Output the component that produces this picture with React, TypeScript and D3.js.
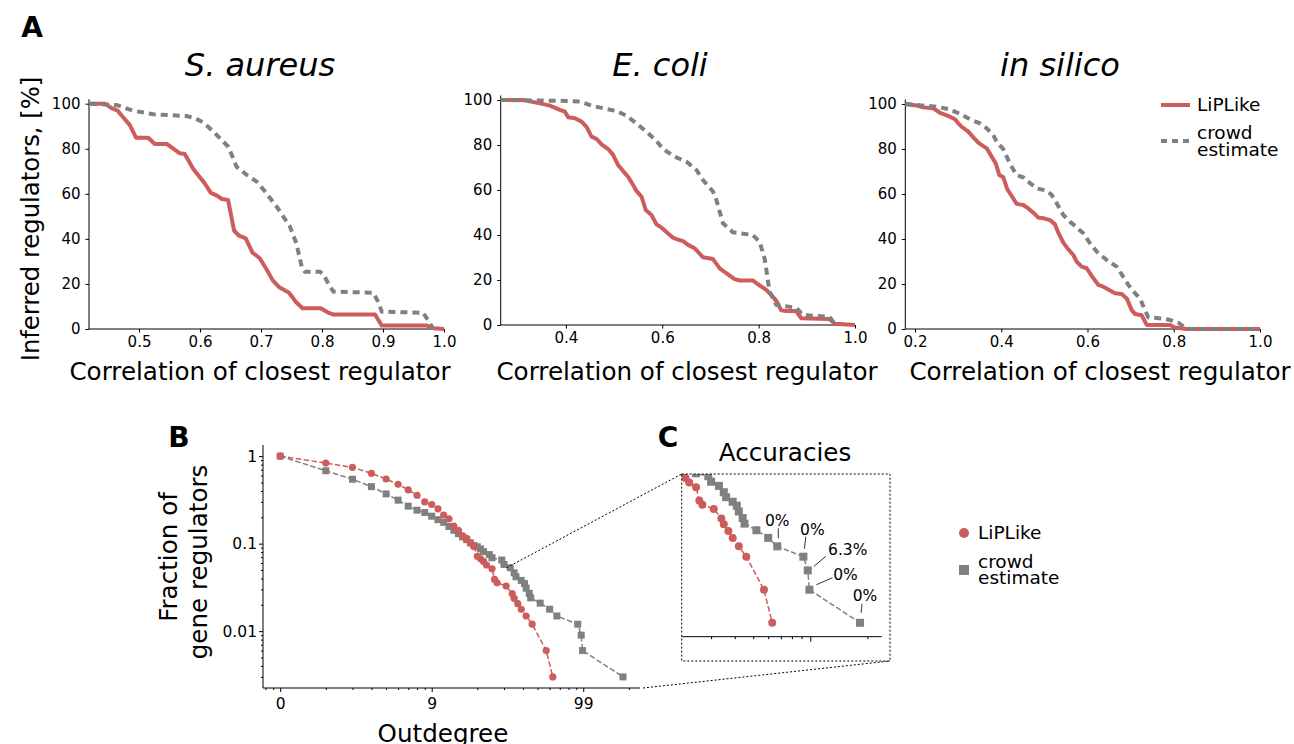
import React, { useEffect, useRef } from "react";
import * as d3 from "d3";

const RED = "#cd5c5c";
const GRAY = "#808080";
const FONT = "'DejaVu Sans', sans-serif";

// Panel A: share of inferred regulators [%] vs correlation of the closest regulator
const aureusLipX = [0.4197, 0.444, 0.455, 0.465, 0.474, 0.485, 0.495, 0.515, 0.526, 0.546, 0.567, 0.575, 0.589, 0.607, 0.6175, 0.627, 0.636, 0.646, 0.656, 0.664, 0.675, 0.686, 0.698, 0.709, 0.719, 0.73, 0.746, 0.757, 0.768, 0.798, 0.809, 0.819, 0.887, 0.898, 0.972, 0.983, 1.0];
const aureusLipY = [100, 100, 98, 96.9, 94, 90.5, 84.9, 84.9, 82.1, 82.1, 78, 77.7, 71, 64.9, 60.5, 59.3, 57.7, 57.3, 43.6, 41.4, 40.2, 33.9, 31.4, 26.5, 21.7, 18.5, 16.1, 12.1, 9.2, 9.2, 7.4, 6.4, 6.4, 1.5, 1.5, 0.3, 0];
const aureusCrowdX = [0.4197, 0.4634, 0.4907, 0.5235, 0.578, 0.592, 0.6054, 0.622, 0.633, 0.6464, 0.66, 0.6766, 0.693, 0.7066, 0.7257, 0.7366, 0.7475, 0.758, 0.7667, 0.772, 0.7967, 0.802, 0.81, 0.8185, 0.884, 0.892, 0.898, 0.966, 0.977, 0.9825];
const aureusCrowdY = [100, 99.4, 96.9, 95.3, 94.5, 93.5, 91.7, 87.6, 84.6, 80.9, 72, 68.4, 65.4, 61, 54.3, 49.9, 45.4, 38, 27.7, 25.4, 25.4, 24.4, 20.3, 16.6, 16.1, 12.1, 7.7, 7.2, 2.5, 0];

const ecoliLipX = [0.2647, 0.3115, 0.346, 0.3668, 0.3876, 0.398, 0.4048, 0.4187, 0.4325, 0.4429, 0.4532, 0.4636, 0.474, 0.4877, 0.498, 0.5084, 0.5188, 0.529, 0.5395, 0.5465, 0.557, 0.5658, 0.5776, 0.588, 0.5983, 0.612, 0.6224, 0.6294, 0.6431, 0.6535, 0.6674, 0.6846, 0.7053, 0.7192, 0.733, 0.7503, 0.7606, 0.788, 0.7985, 0.816, 0.8263, 0.8367, 0.847, 0.8574, 0.878, 0.8885, 0.947, 0.9575, 1.0];
const ecoliLipY = [100, 100, 98.5, 97.5, 95.6, 94.8, 92.3, 91.9, 90.4, 88.1, 83.7, 82.7, 80.3, 78.2, 75.6, 71.1, 68.4, 65.9, 62.2, 59.6, 57.0, 51.1, 48.9, 44.7, 43.3, 40.7, 38.8, 38.2, 37.3, 35.6, 34.1, 30.1, 29.3, 25.2, 23.0, 20.4, 19.8, 19.8, 18.1, 15.6, 13.3, 10.7, 6.5, 6.2, 6.2, 3.0, 2.7, 0.6, 0];
const ecoliCrowdX = [0.2647, 0.4014, 0.429, 0.4566, 0.4843, 0.505, 0.5258, 0.5465, 0.5672, 0.588, 0.6017, 0.626, 0.6502, 0.671, 0.6846, 0.7053, 0.7123, 0.726, 0.7467, 0.788, 0.802, 0.8124, 0.8228, 0.8367, 0.878, 0.892, 0.947, 0.9575, 0.965];
const ecoliCrowdY = [100, 99.6, 99.3, 97.3, 96.0, 95.1, 93.0, 89.6, 85.9, 81.8, 78.2, 74.8, 72.6, 68.9, 64.4, 59.3, 55.6, 45.2, 41.2, 40.0, 37.0, 29.6, 14.8, 8.9, 7.7, 4.4, 3.7, 0.6, 0];

const silicoLipX = [0.1775, 0.2039, 0.2193, 0.2425, 0.258, 0.2773, 0.2928, 0.3004, 0.3083, 0.3236, 0.3352, 0.3468, 0.3584, 0.3662, 0.3778, 0.3878, 0.3955, 0.4048, 0.414, 0.4242, 0.4358, 0.4511, 0.4627, 0.4743, 0.4859, 0.4975, 0.513, 0.5246, 0.5323, 0.5439, 0.5555, 0.5671, 0.575, 0.5866, 0.5981, 0.6097, 0.625, 0.6367, 0.6483, 0.6638, 0.6793, 0.6909, 0.7025, 0.7101, 0.7256, 0.7373, 0.7913, 0.8029, 0.83, 1.0];
const silicoLipY = [100, 99.3, 98.5, 98.1, 96.1, 94.7, 93.2, 91.4, 89.9, 87.7, 85.2, 82.8, 81.3, 80.3, 76.6, 73.3, 68.4, 67.4, 62.1, 59.1, 55.6, 55.1, 53.6, 51.7, 49.5, 49.2, 48.4, 46.5, 42.8, 38.4, 35.4, 32.9, 29.9, 27.7, 27.0, 23.6, 19.6, 18.8, 17.6, 15.9, 15.6, 13.6, 8.4, 6.7, 6.1, 1.8, 1.8, 0.7, 0, 0];
const silicoCrowdX = [0.1775, 0.2503, 0.2812, 0.3043, 0.3275, 0.3507, 0.3662, 0.3816, 0.3894, 0.4048, 0.4203, 0.4358, 0.4511, 0.4667, 0.4822, 0.5054, 0.517, 0.5286, 0.5439, 0.5594, 0.575, 0.5903, 0.6058, 0.6213, 0.6445, 0.6677, 0.683, 0.6946, 0.7101, 0.7217, 0.7333, 0.741, 0.7758, 0.7913, 0.8106, 0.826, 0.8377, 1.0];
const silicoCrowdY = [100, 98.8, 97.6, 95.6, 93.2, 91.4, 89.2, 86.2, 83.2, 79.9, 73.3, 68.4, 67.4, 64.8, 62.5, 61.5, 59.6, 55.9, 50.7, 47.7, 45.2, 42.5, 38.1, 34.4, 30.7, 27.7, 23.2, 19.6, 15.9, 13.6, 8.4, 5.2, 4.6, 4.0, 2.8, 0.7, 0, 0];

const aureusTicks = [0.5, 0.6, 0.7, 0.8, 0.9, 1.0];
const ecoliTicks = [0.4, 0.6, 0.8, 1.0];
const silicoTicks = [0.2, 0.4, 0.6, 0.8, 1.0];
const percentTicks = [0, 20, 40, 60, 80, 100];

// Panel B/C: outdegree distribution (fraction of gene regulators)
const lipOutdeg = [0, 1, 2, 3, 4, 5, 6, 7, 8, 9, 10, 11, 12, 13, 14, 15, 16, 17, 18, 19, 20, 21, 22, 24, 25, 26, 30, 33, 34, 36, 38, 41, 45, 56, 62];
const lipFrac = [1, 0.833, 0.744, 0.636, 0.548, 0.477, 0.411, 0.357, 0.3, 0.28, 0.25, 0.212, 0.192, 0.159, 0.142, 0.123, 0.115, 0.102, 0.093, 0.0717, 0.067, 0.0626, 0.057, 0.0516, 0.039, 0.0357, 0.0327, 0.0268, 0.0237, 0.0206, 0.0178, 0.0149, 0.012, 0.006, 0.003];
const crowdOutdeg = [0, 1, 2, 3, 4, 5, 6, 7, 8, 9, 10, 11, 12, 13, 14, 15, 16, 17, 18, 19, 20, 21, 23, 24, 28, 29, 32, 34, 35, 38, 40, 41, 43, 44, 51, 59, 66, 91, 96, 98, 182];
const crowdFrac = [1, 0.68, 0.544, 0.448, 0.37, 0.314, 0.268, 0.241, 0.227, 0.206, 0.188, 0.175, 0.157, 0.142, 0.13, 0.119, 0.111, 0.102, 0.095, 0.092, 0.087, 0.081, 0.075, 0.069, 0.065, 0.0578, 0.053, 0.0464, 0.0418, 0.038, 0.035, 0.031, 0.027, 0.024, 0.0209, 0.0178, 0.0149, 0.012, 0.009, 0.006, 0.003];

// accuracy annotations on the crowd-estimate tail (panel C)
const accOutdeg = [66, 91, 96, 98, 182];
const accLabels = ["0%", "0%", "6.3%", "0%", "0%"];

export default function App() {
  const svgRef = useRef<SVGSVGElement | null>(null);

  useEffect(() => {
    const svg = d3.select(svgRef.current);
    svg.selectAll("*").remove();
    svg.attr("font-family", FONT);

    // ---------- panel A ----------
    const panels = [
      { title: "S. aureus", lx: aureusLipX, ly: aureusLipY, cx: aureusCrowdX, cy: aureusCrowdY, dom: [0.418, 1.0], ticks: aureusTicks, left: 89, right: 444, bottom: 329, top: 103.7, titleX: 260, labelX: 260 },
      { title: "E. coli", lx: ecoliLipX, ly: ecoliLipY, cx: ecoliCrowdX, cy: ecoliCrowdY, dom: [0.2647, 1.0], ticks: ecoliTicks, left: 500.7, right: 855, bottom: 325, top: 100, titleX: 660, labelX: 687 },
      { title: "in silico", lx: silicoLipX, ly: silicoLipY, cx: silicoCrowdX, cy: silicoCrowdY, dom: [0.1775, 1.0], ticks: silicoTicks, left: 905.3, right: 1260, bottom: 329, top: 104, titleX: 1060, labelX: 1100 },
    ];

    panels.forEach((p) => {
      const x = d3.scaleLinear().domain(p.dom).range([p.left, p.right]);
      const y = d3.scaleLinear().domain([0, 100]).range([p.bottom, p.top]);
      const g = svg.append("g");

      const yAxis = g
        .append("g")
        .attr("transform", `translate(${p.left},0)`)
        .call(d3.axisLeft(y).tickValues(percentTicks).tickSize(3.5).tickPadding(5).tickSizeOuter(0));
      yAxis.select(".domain").remove();
      yAxis.selectAll("text").attr("font-size", 15).attr("font-family", FONT).attr("fill", "#000");

      const xAxis = g
        .append("g")
        .attr("transform", `translate(0,${p.bottom})`)
        .call(d3.axisBottom(x).tickValues(p.ticks).tickFormat(d3.format(".1f")).tickSize(3.5).tickPadding(4).tickSizeOuter(0));
      xAxis.select(".domain").remove();
      xAxis.selectAll("text").attr("font-size", 15).attr("font-family", FONT).attr("fill", "#000");

      // spines
      g.append("line").attr("x1", p.left).attr("x2", p.left).attr("y1", p.bottom).attr("y2", y(102)).attr("stroke", "#000").attr("stroke-width", 1);
      g.append("line").attr("x1", p.left).attr("x2", p.right).attr("y1", p.bottom).attr("y2", p.bottom).attr("stroke", "#000").attr("stroke-width", 1);

      const curve = d3.line<[number, number]>().x((d) => x(d[0])).y((d) => y(d[1]));
      g.append("path")
        .attr("d", curve(p.lx.map((v, i) => [v, p.ly[i]] as [number, number])))
        .attr("fill", "none")
        .attr("stroke", RED)
        .attr("stroke-width", 4)
        .attr("stroke-linejoin", "round");
      g.append("path")
        .attr("d", curve(p.cx.map((v, i) => [v, p.cy[i]] as [number, number])))
        .attr("fill", "none")
        .attr("stroke", GRAY)
        .attr("stroke-width", 4)
        .attr("stroke-dasharray", "7 5");

      g.append("text").attr("x", p.titleX).attr("y", 76).attr("text-anchor", "middle").attr("font-size", 32).attr("font-style", "italic").text(p.title);
      g.append("text").attr("x", p.labelX).attr("y", 380).attr("text-anchor", "middle").attr("font-size", 24.6).text("Correlation of closest regulator");
    });

    svg.append("text").attr("transform", "translate(30,219) rotate(-90)").attr("dy", "0.35em").attr("text-anchor", "middle").attr("font-size", 24.3).text("Inferred regulators, [%]");

    // legend A
    const legA = svg.append("g");
    legA.append("line").attr("x1", 1161).attr("x2", 1190).attr("y1", 105).attr("y2", 105).attr("stroke", RED).attr("stroke-width", 4);
    legA.append("text").attr("x", 1197).attr("y", 105).attr("dy", "0.35em").attr("font-size", 18.5).text("LiPLike");
    legA.append("line").attr("x1", 1161).attr("x2", 1190).attr("y1", 141).attr("y2", 141).attr("stroke", GRAY).attr("stroke-width", 4).attr("stroke-dasharray", "6 5");
    legA.append("text").attr("x", 1197).attr("y", 133).attr("dy", "0.35em").attr("font-size", 18.5).text("crowd");
    legA.append("text").attr("x", 1197).attr("y", 149.5).attr("dy", "0.35em").attr("font-size", 18.5).text("estimate");

    // ---------- panel B ----------
    const xB = d3.scaleLog().domain([0.77, 237]).range([263, 640]);
    const yB = d3.scaleLog().domain([0.00224, 1.34]).range([688, 445]);
    const isMajor = (v: number) => Math.abs(Math.log10(v) - Math.round(Math.log10(v))) < 1e-6;
    const gB = svg.append("g");

    const xt = xB.ticks();
    const yt = yB.ticks();
    const axMinorX = gB.append("g").attr("transform", "translate(0,688)").call(d3.axisBottom(xB).tickValues(xt.filter((v) => !isMajor(v))).tickSize(2).tickFormat(() => ""));
    const axMajorX = gB.append("g").attr("transform", "translate(0,688)").call(d3.axisBottom(xB).tickValues(xt.filter(isMajor)).tickSize(4).tickPadding(6).tickFormat((v) => String(Math.round(+v) - 1)));
    const axMinorY = gB.append("g").attr("transform", "translate(263,0)").call(d3.axisLeft(yB).tickValues(yt.filter((v) => !isMajor(v))).tickSize(2).tickFormat(() => ""));
    const axMajorY = gB.append("g").attr("transform", "translate(263,0)").call(d3.axisLeft(yB).tickValues(yt.filter(isMajor)).tickSize(4).tickPadding(2).tickFormat((v) => String(+(+v).toPrecision(1))));
    [axMinorX, axMajorX, axMinorY, axMajorY].forEach((a) => {
      a.select(".domain").remove();
      a.selectAll("text").attr("font-size", 15.5).attr("font-family", FONT).attr("fill", "#000");
    });
    gB.append("line").attr("x1", 263).attr("x2", 263).attr("y1", 445).attr("y2", 688).attr("stroke", "#000");
    gB.append("line").attr("x1", 263).attr("x2", 640).attr("y1", 688).attr("y2", 688).attr("stroke", "#000");

    const drawSeries = (
      g: d3.Selection<SVGGElement, unknown, null, undefined>,
      xs: d3.ScaleLogarithmic<number, number>,
      ys: d3.ScaleLogarithmic<number, number>,
      degs: number[],
      fr: number[],
      color: string,
      shape: "circle" | "square",
      size: number
    ) => {
      const pts = degs.map((d, i) => [xs(d + 1), ys(fr[i])] as [number, number]);
      g.append("path")
        .attr("d", d3.line()(pts))
        .attr("fill", "none")
        .attr("stroke", color)
        .attr("stroke-width", 1.5)
        .attr("stroke-dasharray", "5.5 2.4");
      if (shape === "circle") {
        g.selectAll(null).data(pts).join("circle").attr("cx", (d) => d[0]).attr("cy", (d) => d[1]).attr("r", size).attr("fill", color);
      } else {
        g.selectAll(null).data(pts).join("rect").attr("x", (d) => d[0] - size / 2).attr("y", (d) => d[1] - size / 2).attr("width", size).attr("height", size).attr("fill", color);
      }
    };

    drawSeries(gB, xB, yB, crowdOutdeg, crowdFrac, GRAY, "square", 7);
    drawSeries(gB, xB, yB, lipOutdeg, lipFrac, RED, "circle", 3.6);

    svg.append("text").attr("transform", "translate(168,557) rotate(-90)").attr("dy", "0.35em").attr("text-anchor", "middle").attr("font-size", 24.6).text("Fraction of");
    svg.append("text").attr("transform", "translate(198,562) rotate(-90)").attr("dy", "0.35em").attr("text-anchor", "middle").attr("font-size", 24.6).text("gene regulators");
    svg.append("text").attr("x", 443).attr("y", 742).attr("text-anchor", "middle").attr("font-size", 24.6).text("Outdegree");

    // ---------- panel C (zoomed tail) ----------
    const cL = 681.7, cR = 881.7, cT = 474, cB = 636.7;
    const xC = d3.scaleLog().domain([21, 238]).range([cL, cR]);
    const yC = d3.scaleLog().domain([0.00224, 0.068]).range([cB, cT]);
    const defs = svg.append("defs");
    defs.append("clipPath").attr("id", "clipC").append("rect").attr("x", cL).attr("y", cT).attr("width", cR - cL).attr("height", cB - cT);
    const gC = svg.append("g");
    const xtC = xC.ticks();
    const axMinorC = gC.append("g").attr("transform", `translate(0,${cB})`).call(d3.axisBottom(xC).tickValues(xtC.filter((v) => !isMajor(v))).tickSize(2.5).tickFormat(() => ""));
    const axMajorC = gC.append("g").attr("transform", `translate(0,${cB})`).call(d3.axisBottom(xC).tickValues(xtC.filter(isMajor)).tickSize(5).tickFormat(() => ""));
    [axMinorC, axMajorC].forEach((a) => a.select(".domain").remove());
    gC.append("line").attr("x1", cL).attr("x2", cR).attr("y1", cB).attr("y2", cB).attr("stroke", "#000");

    const gCd = gC.append("g").attr("clip-path", "url(#clipC)");
    drawSeries(gCd, xC, yC, crowdOutdeg, crowdFrac, GRAY, "square", 8);
    drawSeries(gCd, xC, yC, lipOutdeg, lipFrac, RED, "circle", 4);

    // annotation offsets (text centre, leader start, leader end) relative to the marker
    const annOffsets = [
      { t: [0, -26], a: [1, -18], b: [1, -8] },
      { t: [9, -27], a: [2.4, -20], b: [1, -8] },
      { t: [40, -21], a: [18, -14], b: [6, -4] },
      { t: [36, -15], a: [23, -12], b: [7, -5] },
      { t: [5, -27], a: [2, -19], b: [1, -10] },
    ];
    accOutdeg.forEach((d, i) => {
      const idx = crowdOutdeg.indexOf(d);
      const px = xC(d + 1);
      const py = yC(crowdFrac[idx]);
      const o = annOffsets[i];
      gC.append("line").attr("x1", px + o.a[0]).attr("y1", py + o.a[1]).attr("x2", px + o.b[0]).attr("y2", py + o.b[1]).attr("stroke", "#333").attr("stroke-width", 1);
      gC.append("text").attr("x", px + o.t[0]).attr("y", py + o.t[1]).attr("dy", "0.35em").attr("text-anchor", "middle").attr("font-size", 15.5).text(accLabels[i]);
    });

    // inset frame and connectors
    svg.append("rect").attr("x", cL).attr("y", cT).attr("width", 890 - cL).attr("height", 661 - cT).attr("fill", "none").attr("stroke", "#000").attr("stroke-width", 1).attr("stroke-dasharray", "2 2");
    svg.append("line").attr("x1", xB(31.2)).attr("y1", yB(0.053)).attr("x2", cL).attr("y2", cT).attr("stroke", "#000").attr("stroke-dasharray", "2 2");
    svg.append("line").attr("x1", 643).attr("y1", 688).attr("x2", 890).attr("y2", 661).attr("stroke", "#000").attr("stroke-dasharray", "2 2");

    svg.append("text").attr("x", 785).attr("y", 461).attr("text-anchor", "middle").attr("font-size", 24.6).text("Accuracies");

    // legend B/C
    const legB = svg.append("g");
    legB.append("circle").attr("cx", 964).attr("cy", 533).attr("r", 5).attr("fill", RED);
    legB.append("text").attr("x", 978).attr("y", 533).attr("dy", "0.35em").attr("font-size", 18.5).text("LiPLike");
    legB.append("rect").attr("x", 959).attr("y", 565).attr("width", 10).attr("height", 10).attr("fill", GRAY);
    legB.append("text").attr("x", 978).attr("y", 561.5).attr("dy", "0.35em").attr("font-size", 18.5).text("crowd");
    legB.append("text").attr("x", 978).attr("y", 578).attr("dy", "0.35em").attr("font-size", 18.5).text("estimate");

    // panel letters
    const letters: [string, number, number][] = [["A", 32, 36.5], ["B", 179, 447], ["C", 668, 447]];
    letters.forEach(([t, lx, ly]) => {
      svg.append("text").attr("x", lx).attr("y", ly).attr("text-anchor", "middle").attr("font-size", 28).attr("font-weight", "bold").text(t);
    });
  }, []);

  return <svg ref={svgRef} width={1294} height={744} style={{ position: "absolute", left: 0, top: 0, background: "#fff" }} />;
}
